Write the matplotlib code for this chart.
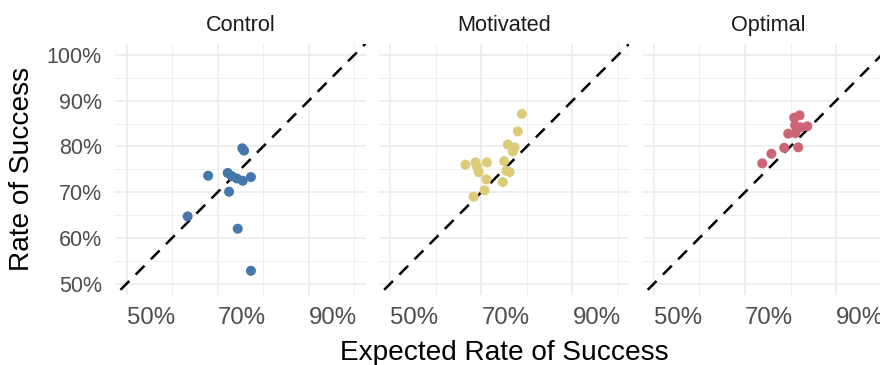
import matplotlib
matplotlib.use("Agg")
import matplotlib.pyplot as plt
from matplotlib.ticker import FixedLocator, FuncFormatter

plt.rcParams['font.family'] = ['Liberation Sans', 'DejaVu Sans']

# Group names and colours
groups = ["Control", "Motivated", "Optimal"]
colors = ["#4477AA", "#DDCC77", "#CC6677"]

# Expected vs. observed success rates (%) per participant
control_expected = [75.4, 75.8, 67.9, 72.2, 73.1, 74.2, 75.5, 77.3, 72.5, 63.4, 74.4, 77.3]
control_actual = [79.6, 79.1, 73.6, 74.2, 73.5, 73.0, 72.5, 73.3, 70.1, 64.7, 62.0, 52.8]

motivated_expected = [78.9, 78.0, 75.8, 77.3, 76.9, 66.5, 68.7, 71.2, 69.1, 69.4,
                      75.0, 75.5, 76.2, 71.1, 74.7, 70.7, 68.3]
motivated_actual = [87.1, 83.3, 80.4, 79.8, 78.9, 76.0, 76.5, 76.5, 75.4, 74.4,
                    76.8, 74.7, 74.4, 72.8, 72.2, 70.4, 69.0]

optimal_expected = [73.8, 75.8, 78.6, 81.7, 79.5, 81.1, 83.7, 80.8, 82.0, 81.0, 82.2]
optimal_actual = [76.3, 78.4, 79.7, 79.8, 82.8, 82.9, 84.4, 86.3, 86.8, 84.6, 84.2]

expected = [control_expected, motivated_expected, optimal_expected]
actual = [control_actual, motivated_actual, optimal_actual]

x_major = [50, 70, 90]
x_minor = [60, 80, 100]
y_major = [50, 60, 70, 80, 90, 100]
y_minor = [55, 65, 75, 85, 95]

W, H = 880, 365
fig = plt.figure(figsize=(W / 100, H / 100), dpi=100)
fig.patch.set_facecolor("white")

lefts = [115.3, 379.0, 642.6]
pw, ph = 250.3, 251.4
top = 43.6
pct = FuncFormatter(lambda v, p: f"{v:.0f}%")

for i, name in enumerate(groups):
    ax = fig.add_axes([lefts[i] / W, (H - top - ph) / H, pw / W, ph / H])
    ax.set_xlim(47.5, 102.5)
    ax.set_ylim(47.5, 102.5)
    ax.set_axisbelow(True)
    for s in ax.spines.values():
        s.set_visible(False)

    ax.xaxis.set_major_locator(FixedLocator(x_major))
    ax.xaxis.set_minor_locator(FixedLocator(x_minor))
    ax.yaxis.set_major_locator(FixedLocator(y_major))
    ax.yaxis.set_minor_locator(FixedLocator(y_minor))
    ax.xaxis.set_major_formatter(pct)
    ax.yaxis.set_major_formatter(pct)
    ax.grid(which="major", color="#EBEBEB", lw=1.2)
    ax.grid(which="minor", color="#EDEDED", lw=0.6)
    ax.tick_params(which="both", length=0)
    ax.tick_params(axis="x", labelsize=17.3, labelcolor="#4D4D4D", pad=9)
    ax.tick_params(axis="y", labelsize=15.5, labelcolor="#4D4D4D", pad=9.8)
    for lab in ax.get_xticklabels():
        lab.set_ha("left")
    if i > 0:
        ax.tick_params(axis="y", labelleft=False)

    # identity line: expected equals observed
    ax.plot([0, 200], [0, 200], color="black", lw=1.8, ls=(0, (5.0, 3.6)), zorder=2)
    ax.scatter(expected[i], actual[i], s=52, color=colors[i], edgecolors="none", zorder=3)

    fig.text((lefts[i] + pw / 2) / W, 1 - 30.7 / H, name, ha="center", va="baseline",
             fontsize=15.6, color="#1A1A1A")

fig.text((lefts[0] + lefts[2] + pw) / 2 / W, 1 - 360 / H, "Expected Rate of Success",
         ha="center", va="baseline", fontsize=20.2, color="black")
fig.text(22 / W, 1 - (top + ph / 2) / H, "Rate of Success", ha="center", va="center",
         rotation=90, fontsize=20.2, color="black")

fig.savefig("out.png", dpi=100)
